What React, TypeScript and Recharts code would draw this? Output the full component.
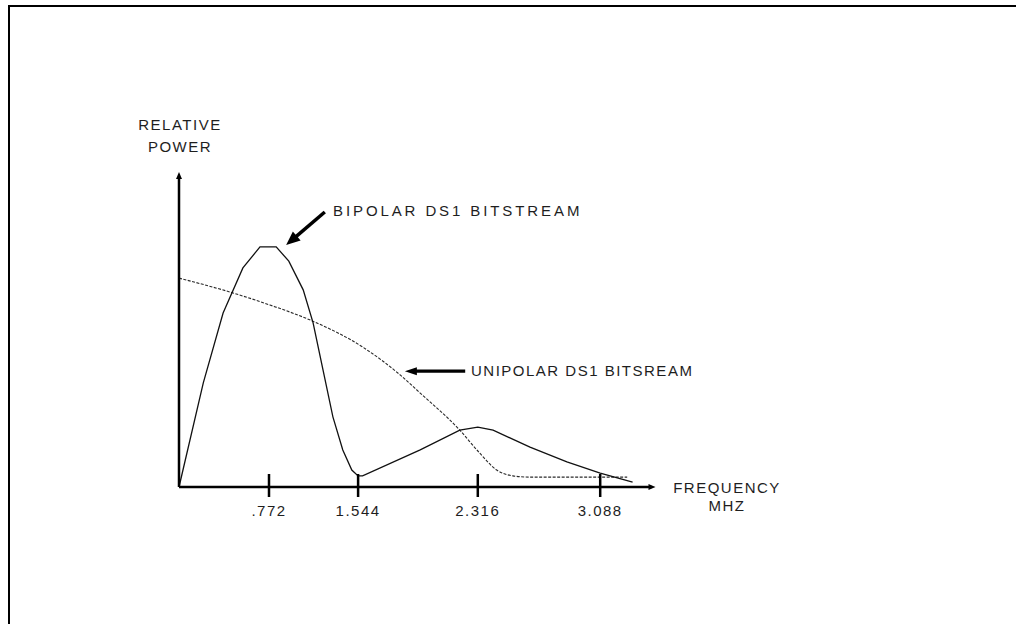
import React from "react";
import { LineChart, Line, XAxis, YAxis, ReferenceLine, ReferenceDot } from "recharts";

// x = position along the drawn frequency axis (tick .772 sits at 1), y = relative power 0..100
const bipolarX = [0, 0.27, 0.49, 0.71, 0.9, 1.08, 1.22, 1.38, 1.49, 1.6, 1.71, 1.82, 1.92, 1.99, 2.04, 2.68, 3.12, 3.32, 3.49, 3.9, 4.31, 4.68, 5.04];
const bipolarY = [0, 33.7, 56.3, 70.9, 77.7, 77.7, 73.1, 63.8, 53.1, 37.9, 22.7, 12.0, 5.5, 3.6, 3.6, 12.0, 18.4, 19.4, 18.4, 12.9, 8.1, 4.5, 1.6];
const unipolarX = [0, 0.6, 1.01, 1.46, 2.04, 2.46, 2.68, 3.12, 3.34, 3.53, 3.71, 3.9, 4.98];
const unipolarY = [67.6, 62.8, 58.9, 54.0, 45.3, 36.2, 30.4, 18.4, 11.0, 5.5, 3.6, 3.2, 3.2];
const tickPos = [1, 1.99, 3.32, 4.68];
const tickLabels = [".772", "1.544", "2.316", "3.088"];

const bipolar = bipolarX.map((x, i) => ({ x, y: bipolarY[i] }));
const unipolar = unipolarX.map((x, i) => ({ x, y: unipolarY[i] }));

const FONT = '"Liberation Sans", Arial, sans-serif';
const INK = "#1e1e1e";

const FreqTick = (props: any) => {
  const { x, y, payload } = props;
  const label = tickLabels[tickPos.indexOf(payload.value)];
  return (
    <g>
      <line x1={x} y1={y - 13} x2={x} y2={y + 10} stroke="#000" strokeWidth={2.5} />
      <text x={x} y={y + 29} textAnchor="middle" fill={INK} fontSize={15} fontFamily={FONT} letterSpacing={1.5}>
        {label}
      </text>
    </g>
  );
};

const arrow = (headLen: number, headHalf: number, w: number) => (p: any) => {
  const { x1, y1, x2, y2 } = p;
  const len = Math.hypot(x2 - x1, y2 - y1) || 1;
  const ux = (x2 - x1) / len;
  const uy = (y2 - y1) / len;
  const bx = x2 - ux * headLen;
  const by = y2 - uy * headLen;
  return (
    <g>
      <line x1={x1} y1={y1} x2={bx + ux} y2={by + uy} stroke="#000" strokeWidth={w} />
      <polygon
        points={`${x2},${y2} ${bx - uy * headHalf},${by + ux * headHalf} ${bx + uy * headHalf},${by - ux * headHalf}`}
        fill="#000"
      />
    </g>
  );
};

const upHead = (p: any) => (
  <polygon points={`${p.cx},${p.cy - 6} ${p.cx - 3},${p.cy + 1} ${p.cx + 3},${p.cy + 1}`} fill="#000" />
);
const rightHead = (p: any) => (
  <polygon points={`${p.cx + 4},${p.cy} ${p.cx - 3},${p.cy - 3} ${p.cx - 3},${p.cy + 3}`} fill="#000" />
);

const label = (text: string, left: number, cy: number, center = false, spacing = 1.5) => (
  <div
    style={{
      position: "absolute",
      left: center ? left - 100 : left,
      width: center ? 200 : undefined,
      textAlign: center ? "center" : "left",
      top: cy - 9,
      height: 18,
      lineHeight: "18px",
      fontSize: 15,
      letterSpacing: spacing,
      color: INK,
      whiteSpace: "nowrap",
    }}
  >
    {text}
  </div>
);

export default function App() {
  return (
    <div style={{ position: "fixed", left: 0, top: 0, width: 1016, height: 624, background: "#fff", fontFamily: FONT, overflow: "hidden" }}>
      <div style={{ position: "absolute", left: 8, top: 5, width: 1008, height: 2, background: "#000" }} />
      <div style={{ position: "absolute", left: 8, top: 5, width: 2, height: 619, background: "#000" }} />
      <div style={{ position: "absolute", left: 0, top: 0 }}>
        <LineChart width={1016} height={624} margin={{ top: 178, right: 364.5, bottom: 107, left: 169 }}>
          <XAxis
            type="number"
            dataKey="x"
            domain={[0, 5.25]}
            ticks={tickPos}
            interval={0}
            height={30}
            tickSize={0}
            tickMargin={0}
            tickLine={false}
            tick={<FreqTick />}
            axisLine={{ stroke: "#000", strokeWidth: 2.5 }}
          />
          <YAxis
            type="number"
            domain={[0, 100]}
            width={10}
            tick={false}
            tickLine={false}
            axisLine={{ stroke: "#000", strokeWidth: 2.5 }}
          />
          <Line
            data={unipolar}
            dataKey="y"
            type="monotone"
            stroke="#2a2a2a"
            strokeWidth={1.1}
            strokeDasharray="3 1.5"
            dot={false}
            isAnimationActive={false}
          />
          <Line
            data={bipolar}
            dataKey="y"
            type="linear"
            stroke="#111"
            strokeWidth={1.3}
            dot={false}
            isAnimationActive={false}
          />
          <ReferenceLine segment={[{ x: 1.62, y: 89 }, { x: 1.19, y: 78.3 }]} ifOverflow="visible" shape={arrow(14, 6, 3.5)} />
          <ReferenceLine segment={[{ x: 3.18, y: 37.5 }, { x: 2.51, y: 37.5 }]} ifOverflow="visible" shape={arrow(12, 4, 3.2)} />
          <ReferenceDot x={0} y={100} ifOverflow="visible" shape={upHead} />
          <ReferenceDot x={5.25} y={0} ifOverflow="visible" shape={rightHead} />
        </LineChart>
      </div>
      {label("RELATIVE", 180, 125, true)}
      {label("POWER", 180, 147, true)}
      {label("BIPOLAR DS1 BITSTREAM", 333, 211, false, 2.9)}
      {label("UNIPOLAR DS1 BITSREAM", 471, 371)}
      {label("FREQUENCY", 727, 488, true)}
      {label("MHZ", 727, 506, true)}
    </div>
  );
}
